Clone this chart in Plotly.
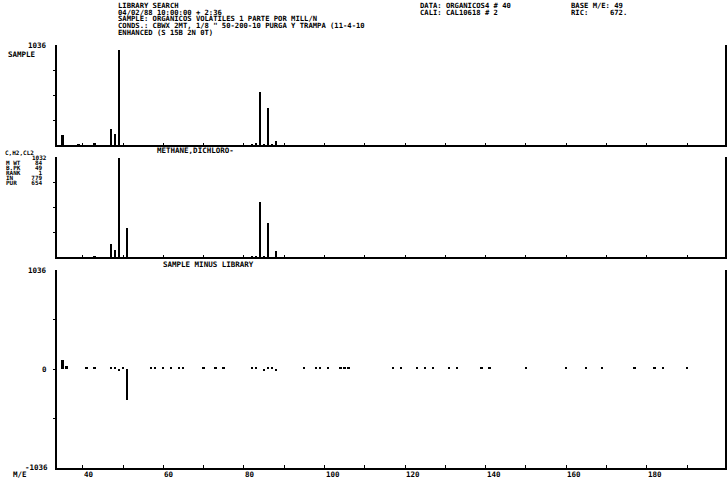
import plotly.graph_objects as go

# ---------------- data ----------------
mz_sample = [35, 39, 43, 47, 48, 49, 82, 83, 84, 85, 86, 87, 88]
ab_sample = [100, 8, 15, 165, 115, 985, 10, 15, 550, 10, 385, 6, 45]

mz_library = [43, 47, 48, 49, 51, 82, 83, 84, 85, 86, 88]
ab_library = [8, 135, 70, 1020, 300, 10, 8, 565, 8, 350, 60]

mz_diff = [35, 36, 41, 43, 47, 48, 49, 50, 51, 57, 58, 60, 62, 64, 65, 70, 73, 75,
           82, 83, 85, 86, 87, 88, 95, 98, 99, 101, 104, 105, 106, 117, 119,
           123, 125, 127, 131, 133, 139, 141, 150, 160, 165, 169, 177, 182, 184, 190]
ab_diff = [95, 30, 12, 12, 25, 15, -15, 15, -325, 12, 12, 12, 12, 12, 12, 12, 12, 12,
           12, 15, -12, 25, 15, -12, 12, 12, 12, 12, 12, 12, 12, 12, 12,
           12, 12, 12, 12, 12, 12, 12, 12, 12, 12, 12, 12, 12, 12, 12]

x_ticks = [40, 60, 80, 100, 120, 140, 160, 180]
x_minor = [50, 70, 90, 110, 130, 150, 170, 190]
x_range = [33.6, 199.4]

top_max = 1036
lib_max = 1032
diff_max = 1036

header_left = [
    "LIBRARY SEARCH",
    "04/02/88 10:00:00 + 2:36",
    "SAMPLE: ORGANICOS VOLATILES 1 PARTE POR MILL/N",
    "CONDS.: CBWX 2MT, 1/8 \" 50-200-10 PURGA Y TRAMPA (11-4-10",
    "ENHANCED (S 15B 2N 0T)",
]
header_mid = ["DATA: ORGANICOS4 # 40", "CALI: CAL10618 # 2"]
header_right = ["BASE M/E: 49", "RIC:     672."]

lib_name = "METHANE,DICHLORO-"
lib_formula = "C,H2,CL2"
lib_info = [("M WT", "84"), ("B.PK", "49"), ("RANK", "1"), ("IN", "779"), ("PUR", "654")]

# ---------------- figure ----------------
W, H = 728, 479
FONT = dict(family="DejaVu Sans Mono", size=7.5, color="black", weight="bold")
HEAD = dict(family="DejaVu Sans Mono", size=7.2, color="black", weight="bold")
SMALL = dict(family="DejaVu Sans Mono", size=6, color="black", weight="bold")

def px(xp):
    return xp / W

def py(yp):
    return 1 - yp / H

fig = go.Figure()
bar_style = dict(marker=dict(color="black", line=dict(width=0)), width=0.45, showlegend=False,
                 hoverinfo="x+y")
fig.add_trace(go.Bar(x=mz_sample, y=ab_sample, xaxis="x", yaxis="y", **bar_style))
fig.add_trace(go.Bar(x=mz_library, y=ab_library, xaxis="x2", yaxis="y2", **bar_style))
fig.add_trace(go.Bar(x=mz_diff, y=ab_diff, xaxis="x3", yaxis="y3", **bar_style))

xdom = [px(57), px(725)]
common_x = dict(range=x_range, domain=xdom, showgrid=False, zeroline=False,
                showline=True, linecolor="black", linewidth=2, mirror=False,
                tickvals=x_ticks + x_minor, tickcolor="black", ticks="inside")
common_y = dict(showgrid=False, zeroline=False, showline=True, linecolor="black",
                linewidth=2, mirror=True, showticklabels=False,
                ticks="outside", ticklen=2, tickcolor="black", tickwidth=1)

fig.update_layout(
    width=W, height=H,
    margin=dict(l=0, r=0, t=0, b=0),
    paper_bgcolor="white", plot_bgcolor="white",
    bargap=0,
    font=FONT,
    xaxis=dict(anchor="y", showticklabels=False, ticklen=2, **common_x),
    xaxis2=dict(anchor="y2", matches="x", showticklabels=False, ticklen=2, **common_x),
    xaxis3=dict(anchor="y3", matches="x", showticklabels=False, ticklen=3, **common_x),
    yaxis=dict(anchor="x", domain=[py(145), py(45)], range=[0, top_max],
               tickvals=[top_max * f for f in (0.25, 0.5, 0.75)], **common_y),
    yaxis2=dict(anchor="x2", domain=[py(257), py(157)], range=[0, lib_max],
                tickvals=[lib_max * f for f in (0.25, 0.5, 0.75)], **common_y),
    yaxis3=dict(anchor="x3", domain=[py(468), py(270)], range=[-diff_max, diff_max],
                tickvals=[-diff_max * 0.5, 0, diff_max * 0.5], **common_y),
)

ann = []
def text(x, y, s, anchor="left", font=FONT):
    ann.append(dict(x=px(x), y=py(y), xref="paper", yref="paper", text=s,
                    showarrow=False, xanchor=anchor, yanchor="middle", font=font))

def nb(s):
    return s.replace(" ", "&nbsp;")

# header
for i, s in enumerate(header_left):
    text(116, 5.5 + i * 6.7, nb(s), font=HEAD)
for i, s in enumerate(header_mid):
    text(418, 5.5 + i * 6.7, nb(s), font=HEAD)
for i, s in enumerate(header_right):
    text(569, 5.5 + i * 6.7, nb(s), font=HEAD)

# top panel labels
text(49, 45, str(top_max), "right")
text(6, 55, "SAMPLE")

# middle panel labels
text(3, 152, lib_formula, font=SMALL)
text(49, 157, str(lib_max), "right", font=SMALL)
for i, (k, v) in enumerate(lib_info):
    text(4, 162.5 + i * 5.0, nb(k.ljust(5) + v.rjust(5)), font=SMALL)
text(155, 151, lib_name)

# bottom panel labels
text(161, 264, nb("SAMPLE MINUS LIBRARY"))
text(49, 270, str(diff_max), "right")
text(49, 369, "0", "right")
text(50, 467, "-" + str(diff_max), "right")
text(11, 474, "M/E")

# x tick labels of the bottom axis (left edge at the tick, as on the printout)
for v in x_ticks:
    ann.append(dict(x=v, y=py(474), xref="x3", yref="paper", text=str(v),
                    showarrow=False, xanchor="left", yanchor="middle", font=FONT,
                    xshift=-1))

fig.update_layout(annotations=ann)
fig.write_html("out.html", config={"displayModeBar": False},
               post_script="document.body.style.margin='0';document.body.style.padding='0';")
